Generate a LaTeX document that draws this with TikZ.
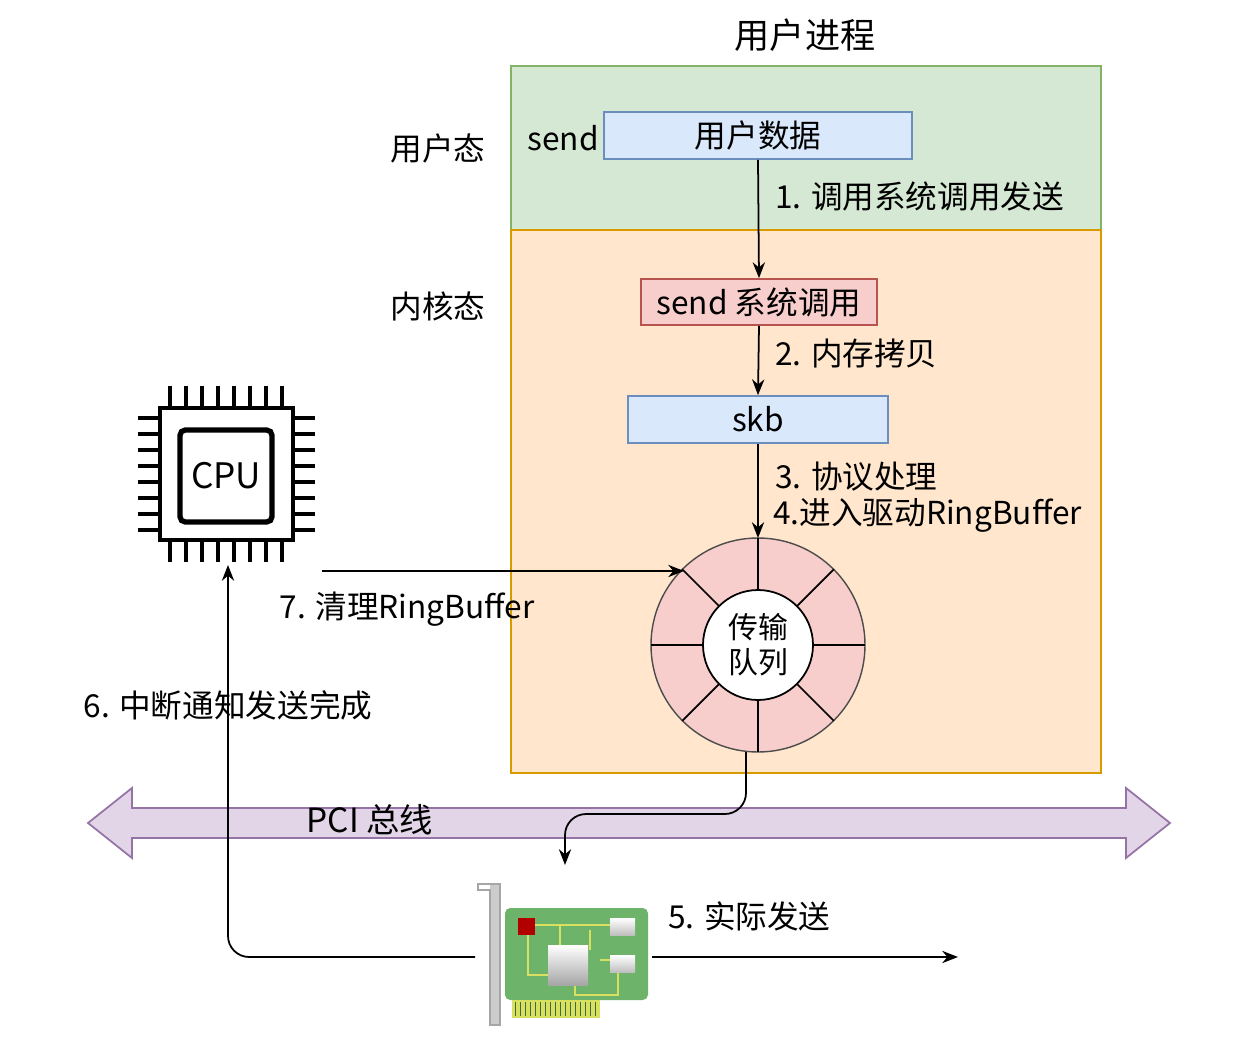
\documentclass[tikz,border=0pt]{standalone}
\usepackage{fontspec}
\setmainfont{Noto Sans CJK SC}
\usetikzlibrary{arrows.meta,calc}
\definecolor{gfill}{HTML}{D5E8D4}\definecolor{gline}{HTML}{82B366}
\definecolor{ofill}{HTML}{FFE6CC}\definecolor{oline}{HTML}{D79B00}
\definecolor{bfill}{HTML}{DAE8FC}\definecolor{bline}{HTML}{6C8EBF}
\definecolor{rfill}{HTML}{F8CECC}\definecolor{rline}{HTML}{B85450}
\definecolor{pfill}{HTML}{E1D5E7}\definecolor{pline}{HTML}{9673A6}
\definecolor{nicg}{HTML}{6DB36A}\definecolor{nicy}{HTML}{D8E060}
\begin{document}
\begin{tikzpicture}[x=0.02cm,y=-0.02cm,
  lbl/.style={font=\fontsize{18}{20}\selectfont,inner sep=0pt},
  box/.style={draw,line width=1pt,inner sep=0pt,font=\fontsize{18}{20}\selectfont},
  arr/.style={-{Stealth[length=9pt,width=7pt]},line width=1pt}]
\useasboundingbox (0,0) rectangle (1242,1048);
\fill[white] (0,0) rectangle (1242,1048);
\node[lbl,font=\fontsize{20}{22}\selectfont] (title) at (805,35) {用户进程};
\filldraw[fill=gfill,draw=gline,line width=1pt] (511,66) rectangle (1101,230);
\filldraw[fill=ofill,draw=oline,line width=1pt] (511,230) rectangle (1101,773);
\node[lbl] (us) at (438,148) {用户态};
\node[lbl] (ks) at (438,306) {内核态};
\node[lbl] (send) at (563,138) {send};
\node[box,fill=bfill,draw=bline,minimum width=308*0.02cm,minimum height=47*0.02cm] (ud) at (758,135.5) {用户数据};
\node[box,fill=rfill,draw=rline,minimum width=236*0.02cm,minimum height=46*0.02cm] (sc) at (759,302) {send 系统调用};
\node[box,fill=bfill,draw=bline,minimum width=260*0.02cm,minimum height=47*0.02cm] (skb) at (758,419.5) {skb};
% ring
\coordinate (rc) at (758,645);
\fill[rfill] (rc) circle[radius=107*0.02cm];
\draw[line width=0.8pt,draw=black!70] (rc) circle[radius=107*0.02cm];
\foreach \a in {0,45,...,315}{\draw[line width=1pt] ($(rc)+(\a:55*0.02cm)$) -- ($(rc)+(\a:107*0.02cm)$);}
\node[circle,fill=white,draw,line width=1pt,minimum size=110*0.02cm,inner sep=0pt,align=center,font=\fontsize{17}{20}\selectfont] (ring) at (rc) {传输\\队列};
\coordinate (ringtop) at (758,538);
\draw[arr] (ud.south) -- (sc.north);
\draw[arr] (sc.south) -- (skb.north);
\draw[arr] (skb.south) -- (ringtop);
\node[lbl,anchor=west] (l1) at (775,196) {1. 调用系统调用发送};
\node[lbl,anchor=west] (l2) at (775,354) {2. 内存拷贝};
\node[lbl,anchor=west] (l3) at (775,477) {3. 协议处理};
\node[lbl,anchor=west] (l4) at (773,515) {4.进入驱动RingBuffer};
% PCI bus
\filldraw[fill=pfill,draw=pline,line width=1pt] (88,823) -- (132,788) -- (132,808) -- (1126,808) -- (1126,788) -- (1170,823) -- (1126,858) -- (1126,838) -- (132,838) -- (132,858) -- cycle;
\node[lbl,font=\fontsize{19}{21}\selectfont] (pcil) at (370,820) {PCI 总线};
% NIC
\begin{scope}
\fill[nicg,rounded corners=3pt] (505,908) rectangle (648,1000);
\fill[nicy] (512,1000) rectangle (600,1018);
\foreach \x in {515,520,...,597}{\draw[nicg!60!black,line width=0.3pt] (\x,1002) -- (\x,1016);}
\draw[nicy,line width=1pt] (528,925) -- (618,925) (528,925) -- (528,975) -- (548,975) (560,925) -- (560,950) (575,955) -- (575,995) -- (618,995) -- (618,965) (590,930) -- (590,950) (600,960) -- (618,960);
\fill[red!70!black] (518,918) rectangle (535,935);
\shade[top color=white,bottom color=gray!70] (548,945) rectangle (588,985);
\shade[top color=white,bottom color=gray!50] (610,918) rectangle (635,935);
\shade[top color=white,bottom color=gray!50] (610,955) rectangle (635,972);
\fill[gray!40] (490,884) rectangle (500,1025);
\draw[gray!70,line width=0.6pt] (478,884) -- (500,884) -- (500,1025) -- (490,1025) -- (490,890) -- (478,890) -- cycle;
\end{scope}
\coordinate (nicL) at (475,957);
\coordinate (nicR) at (652,957);
\coordinate (nicT) at (565,865);
\coordinate (sendout) at (958,957);
\coordinate (ringbot) at (746,752);
\draw[arr,rounded corners=12pt] (ringbot) -- (746,814) -- (565,814) -- (nicT);
\draw[arr] (nicR) -- (sendout);
\node[lbl,anchor=west] (l5) at (668,916) {5. 实际发送};
% CPU
\coordinate (cpuB) at (228,565);
\draw[line width=2.5pt] (160,408) rectangle (293,540);
\draw[line width=3pt,rounded corners=3pt] (180,430) rectangle (272,522);
\foreach \i in {0,...,7}{
 \pgfmathsetmacro\p{170+\i*16}
 \pgfmathsetmacro\q{418+\i*16}
 \draw[line width=2pt] (\p,386) -- (\p,408);
 \draw[line width=2pt] (\p,540) -- (\p,562);
 \draw[line width=2pt] (138,\q) -- (160,\q);
 \draw[line width=2pt] (293,\q) -- (315,\q);}
\node[lbl,font=\fontsize{20}{22}\selectfont] (cpu) at (226,476) {CPU};
\draw[arr,rounded corners=12pt] (nicL) -- (228,957) -- (cpuB);
\node[lbl] (l6) at (228,705) {6. 中断通知发送完成};
\draw[arr] (322,571) -- (684,571);
\node[lbl] (l7) at (407,609) {7. 清理RingBuffer};
\end{tikzpicture}
\end{document}
